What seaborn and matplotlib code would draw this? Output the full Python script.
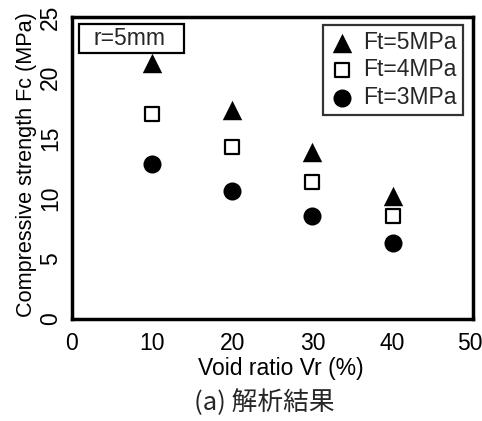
import matplotlib
matplotlib.use("Agg")
import matplotlib.pyplot as plt
import matplotlib.transforms as mtransforms
from matplotlib.patches import Rectangle
import seaborn as sns
import pandas as pd

void_ratio = [10, 20, 30, 40]
fc_ft5 = [21.2, 17.3, 13.8, 10.2]
fc_ft4 = [17.0, 14.2, 11.3, 8.5]
fc_ft3 = [12.8, 10.6, 8.5, 6.3]
series_labels = ["Ft=5MPa", "Ft=4MPa", "Ft=3MPa"]
x_ticks = [0, 10, 20, 30, 40, 50]
y_ticks = [0, 5, 10, 15, 20, 25]

sns.set_theme(style="white")
plt.rcParams['font.family'] = ['Liberation Sans', 'Noto Sans CJK JP', 'DejaVu Sans']

FS = 16.5

fig = plt.figure(figsize=(4.82, 4.21), dpi=100)
ax = fig.add_axes([0.149, 0.242, 0.832, 0.718])

df = pd.DataFrame({
    "Vr": void_ratio * 3,
    "Fc": fc_ft5 + fc_ft4 + fc_ft3,
    "series": [series_labels[0]] * 4 + [series_labels[1]] * 4 + [series_labels[2]] * 4,
})

styles = {
    series_labels[0]: dict(marker="^", s=14**2, color="black", edgecolor="black", linewidth=0),
    series_labels[1]: dict(marker="s", s=10.5**2, color="white", edgecolor="black", linewidth=1.6),
    series_labels[2]: dict(marker="o", s=13**2, color="black", edgecolor="black", linewidth=0),
}
for lab in series_labels:
    sub = df[df["series"] == lab]
    sns.scatterplot(data=sub, x="Vr", y="Fc", ax=ax, label=lab, **styles[lab])

ax.set_xlim(0, 50)
ax.set_ylim(0, 25)
ax.set_xticks(x_ticks)
ax.set_yticks(y_ticks)
ax.tick_params(direction="in", length=6, width=1.5, labelsize=FS, colors="black",
               top=False, right=False)
ax.tick_params(axis="x", pad=9)
ax.tick_params(axis="y", pad=7)
for lbl in ax.get_yticklabels():
    lbl.set_rotation(90)
    lbl.set_va("center")
for sp in ax.spines.values():
    sp.set_linewidth(2.5)
    sp.set_color("black")

# nudge the last x tick label slightly left so it stays inside the figure
last = ax.get_xticklabels()[-1]
last.set_transform(last.get_transform() +
                   mtransforms.ScaledTranslation(-3 / 100, 0, fig.dpi_scale_trans))

ax.set_xlabel("Void ratio Vr (%)", fontsize=FS, color="black")
ax.set_ylabel("Compressive strength Fc (MPa)", fontsize=15.6, color="black")
ax.xaxis.set_label_coords(0.52, -0.125)
ax.yaxis.set_label_coords(-0.088, 0.51)

leg = ax.legend(loc="upper right", bbox_to_anchor=(0.975, 0.973), fontsize=FS,
                frameon=True, fancybox=False, borderpad=0.25, labelspacing=0.2,
                handletextpad=0.4, handlelength=1.1, borderaxespad=0)
leg.get_frame().set_edgecolor("black")
leg.get_frame().set_linewidth(1.6)

ax.add_patch(Rectangle((0.0175, 0.881), 0.262, 0.096, transform=ax.transAxes,
                       facecolor="white", edgecolor="black", linewidth=1.6, zorder=5))
ax.text(0.055, 0.929, "r=5mm", transform=ax.transAxes, fontsize=FS,
        va="center", ha="left", zorder=6)

fig.text(0.548, 0.043, "(a) 解析結果", fontsize=18.5, ha="center", va="center",
         family=['Noto Sans CJK JP', 'Liberation Sans'])

fig.savefig("out.png", dpi=100)
